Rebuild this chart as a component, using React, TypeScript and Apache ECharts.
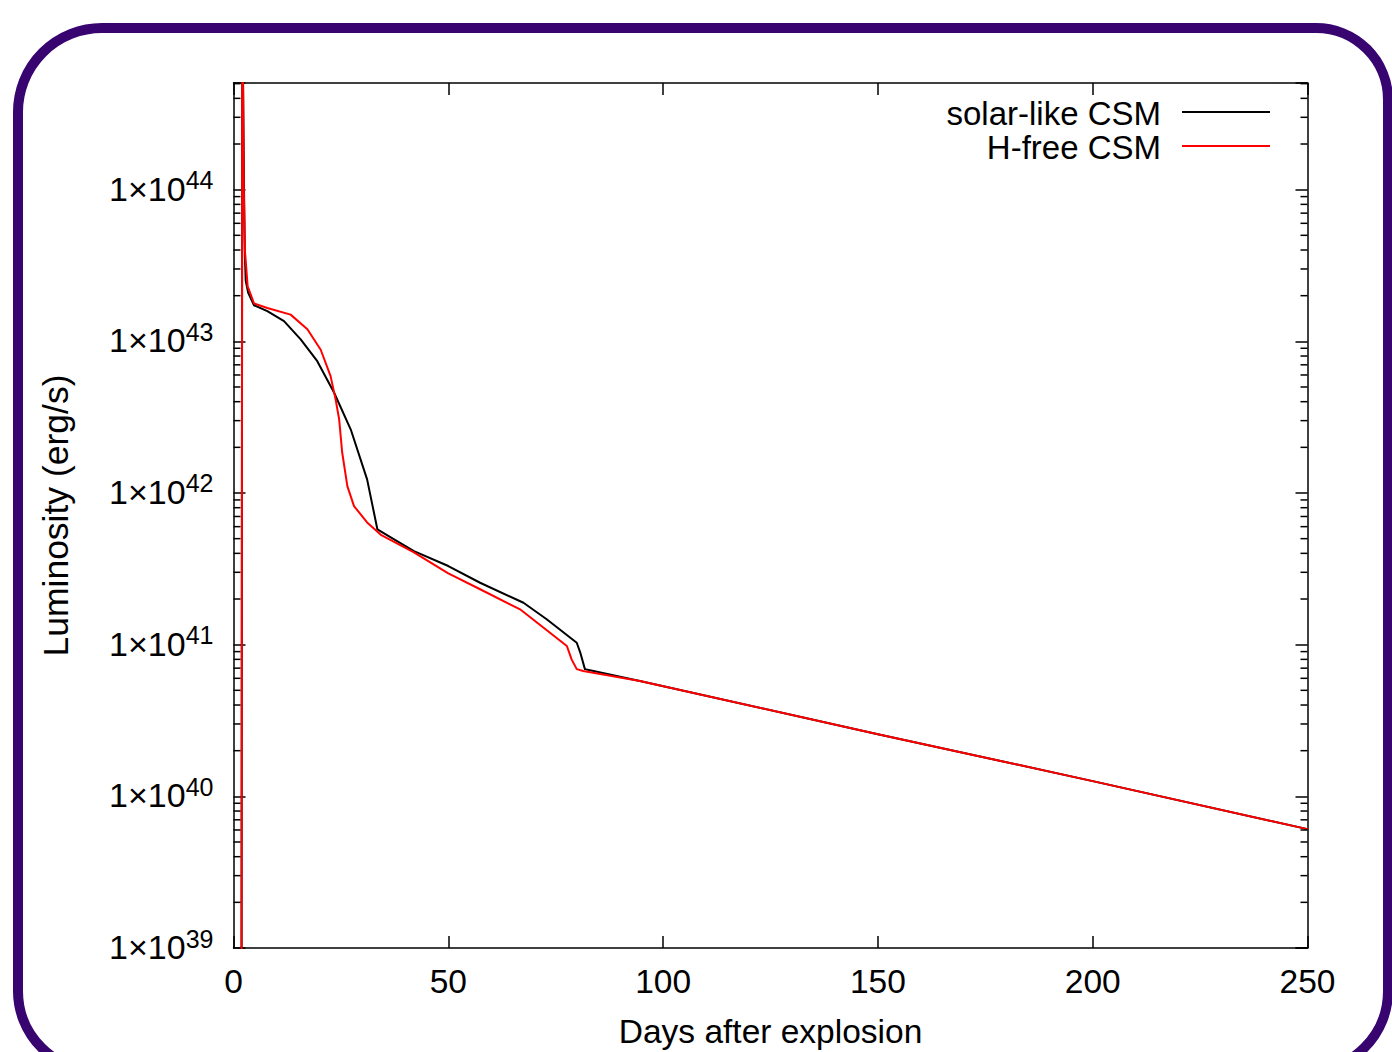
import React, { useEffect, useRef } from 'react';
import * as echarts from 'echarts';

// ---- data ----
const daysSolar = [1.85, 2.05, 2.45, 2.65, 2.84, 3.4, 4.77, 7.87, 11.76, 15.64, 19.5, 23.4, 27.3, 31.1, 33.5, 36.6, 42.0, 50.0, 57.4, 67.5, 72.9, 79.9, 80.7, 81.8, 83.8, 94.6, 150, 200, 250];
const lumSolar = [1e38, 2e45, 1e44, 3.7e43, 2.52e43, 2.1e43, 1.73e43, 1.58e43, 1.36e43, 1.03e43, 7.4e42, 4.6e42, 2.62e42, 1.23e42, 5.75e41, 5.1e41, 4.14e41, 3.3e41, 2.56e41, 1.89e41, 1.47e41, 1.03e41, 8.9e40, 6.9e40, 6.7e40, 5.76e40, 2.57e40, 1.26e40, 6.08e39];

const daysHfree = [1.85, 2.05, 2.4, 2.65, 3.3, 4.77, 7.87, 13.3, 17.2, 20.3, 22.6, 23.8, 24.6, 25.3, 26.5, 28.05, 31.1, 34.3, 42.0, 50.0, 57.4, 66.7, 77.6, 78.7, 79.9, 81.4, 94.6, 150, 200, 250];
const lumHfree = [1e38, 2e45, 1e44, 4e43, 2.3e43, 1.78e43, 1.66e43, 1.5e43, 1.2e43, 8.8e42, 5.9e42, 4.1e42, 3.05e42, 1.85e42, 1.11e42, 8.2e41, 6.4e41, 5.3e41, 4.06e41, 2.95e41, 2.32e41, 1.71e41, 9.8e40, 8.0e40, 6.9e40, 6.7e40, 5.76e40, 2.57e40, 1.26e40, 6.08e39];

const seriesNames = ['solar-like CSM', 'H-free CSM'];
const seriesColors = ['#000000', '#ff0000'];

const xMin = 0;
const xMax = 250;
const xInterval = 50;
const yMin = 1e39;
const yMax = 5.05e44;
const yDecadeExponents = [39, 40, 41, 42, 43, 44];
const minorMultipliers = [2, 3, 4, 5, 6, 7, 8, 9];

const FONT = '"Liberation Sans", Arial, Helvetica, sans-serif';
const TEXT = '#000';

export default function App() {
  const ref = useRef<HTMLDivElement>(null);

  useEffect(() => {
    if (!ref.current) return;
    const chart = echarts.init(ref.current, null, { renderer: 'svg' });

    const minorTicks: number[] = [];
    yDecadeExponents.forEach((e) => {
      minorMultipliers.forEach((m) => {
        const v = m * Math.pow(10, e);
        if (v < yMax) minorTicks.push(v);
      });
    });

    const yLabelFormatter = (v: number) => {
      const e = Math.log10(v);
      const r = Math.round(e);
      if (Math.abs(e - r) > 1e-6) return '';
      return '{b|1×10}{s|' + r + '}';
    };

    const axisLineStyle = { color: '#000', width: 1.5 };

    const option: any = {
      animation: false,
      backgroundColor: '#ffffff',
      grid: {
        left: 233.5,
        right: 84.5,
        top: 83,
        bottom: 104,
        outerBoundsMode: 'none',
      },
      xAxis: [
        {
          type: 'value',
          min: xMin,
          max: xMax,
          interval: xInterval,
          position: 'bottom',
          name: 'Days after explosion',
          nameLocation: 'middle',
          nameGap: 66,
          nameTextStyle: { fontFamily: FONT, fontSize: 33.5, color: TEXT },
          axisLine: { show: true, onZero: false, lineStyle: axisLineStyle },
          axisTick: { show: true, inside: true, length: 12, lineStyle: axisLineStyle },
          axisLabel: { fontFamily: FONT, fontSize: 33.5, color: TEXT, margin: 16 },
          splitLine: { show: false },
        },
        {
          type: 'value',
          min: xMin,
          max: xMax,
          interval: xInterval,
          position: 'top',
          axisLine: { show: true, onZero: false, lineStyle: axisLineStyle },
          axisTick: { show: true, inside: true, length: 12, lineStyle: axisLineStyle },
          axisLabel: { show: false },
          splitLine: { show: false },
        },
      ],
      yAxis: [
        {
          type: 'log',
          logBase: 10,
          min: yMin,
          max: yMax,
          position: 'left',
          name: 'Luminosity (erg/s)',
          nameLocation: 'middle',
          nameGap: 160,
          nameRotate: 90,
          nameTextStyle: { fontFamily: FONT, fontSize: 35.5, color: TEXT },
          axisLine: { show: true, onZero: false, lineStyle: axisLineStyle },
          axisTick: { show: true, inside: true, length: 12, lineStyle: axisLineStyle },
          axisLabel: {
            formatter: yLabelFormatter,
            margin: 20,
            padding: [0, 0, 6, 0],
            rich: {
              b: { fontFamily: FONT, fontSize: 34, color: TEXT, lineHeight: 38, verticalAlign: 'bottom' },
              s: { fontFamily: FONT, fontSize: 25, color: TEXT, lineHeight: 25, verticalAlign: 'top' },
            },
          },
          splitLine: { show: false },
        },
        {
          type: 'log',
          logBase: 10,
          min: yMin,
          max: yMax,
          position: 'right',
          axisLine: { show: true, onZero: false, lineStyle: axisLineStyle },
          axisTick: { show: true, inside: true, length: 12, lineStyle: axisLineStyle },
          axisLabel: { show: false },
          splitLine: { show: false },
        },
      ],
      series: [
        {
          type: 'custom',
          name: 'minorTicks',
          xAxisIndex: 0,
          yAxisIndex: 0,
          silent: true,
          z: 5,
          data: minorTicks.map((v) => [xMin, v]),
          renderItem: (params: any, api: any) => {
            const cs = params.coordSys;
            const pt = api.coord([xMin, api.value(1)]);
            const y = pt[1];
            return {
              type: 'group',
              children: [
                { type: 'line', shape: { x1: cs.x, y1: y, x2: cs.x + 7, y2: y }, style: { stroke: '#000', lineWidth: 1.5 } },
                { type: 'line', shape: { x1: cs.x + cs.width, y1: y, x2: cs.x + cs.width - 7, y2: y }, style: { stroke: '#000', lineWidth: 1.5 } },
              ],
            };
          },
        },
        {
          type: 'line',
          name: seriesNames[0],
          xAxisIndex: 0,
          yAxisIndex: 0,
          data: daysSolar.map((d, i) => [d, lumSolar[i]]),
          showSymbol: false,
          clip: true,
          lineStyle: { color: seriesColors[0], width: 2, join: 'round' },
          itemStyle: { color: seriesColors[0] },
          z: 3,
        },
        {
          type: 'line',
          name: seriesNames[1],
          xAxisIndex: 0,
          yAxisIndex: 0,
          data: daysHfree.map((d, i) => [d, lumHfree[i]]),
          showSymbol: false,
          clip: true,
          lineStyle: { color: seriesColors[1], width: 2, join: 'round' },
          itemStyle: { color: seriesColors[1] },
          z: 4,
        },
      ],
      graphic: [
        {
          type: 'rect',
          z: 100,
          silent: true,
          shape: { x: 18, y: 28, width: 1370, height: 1043, r: [84, 72, 80, 80] },
          style: { fill: 'none', stroke: '#370470', lineWidth: 10 },
        },
        {
          type: 'text',
          z: 50,
          x: 1161,
          y: 113,
          style: { text: seriesNames[0], fontFamily: FONT, fontSize: 33, fill: TEXT, align: 'right', verticalAlign: 'middle' },
        },
        {
          type: 'line',
          z: 50,
          shape: { x1: 1182, y1: 112, x2: 1270, y2: 112 },
          style: { stroke: seriesColors[0], lineWidth: 2 },
        },
        {
          type: 'text',
          z: 50,
          x: 1161,
          y: 147,
          style: { text: seriesNames[1], fontFamily: FONT, fontSize: 33, fill: TEXT, align: 'right', verticalAlign: 'middle' },
        },
        {
          type: 'line',
          z: 50,
          shape: { x1: 1182, y1: 146, x2: 1270, y2: 146 },
          style: { stroke: seriesColors[1], lineWidth: 2 },
        },
      ],
    };

    chart.setOption(option);
    return () => {
      chart.dispose();
    };
  }, []);

  return (
    <div
      ref={ref}
      style={{ position: 'fixed', left: 0, top: 0, width: 1392, height: 1052, background: '#fff' }}
    />
  );
}
